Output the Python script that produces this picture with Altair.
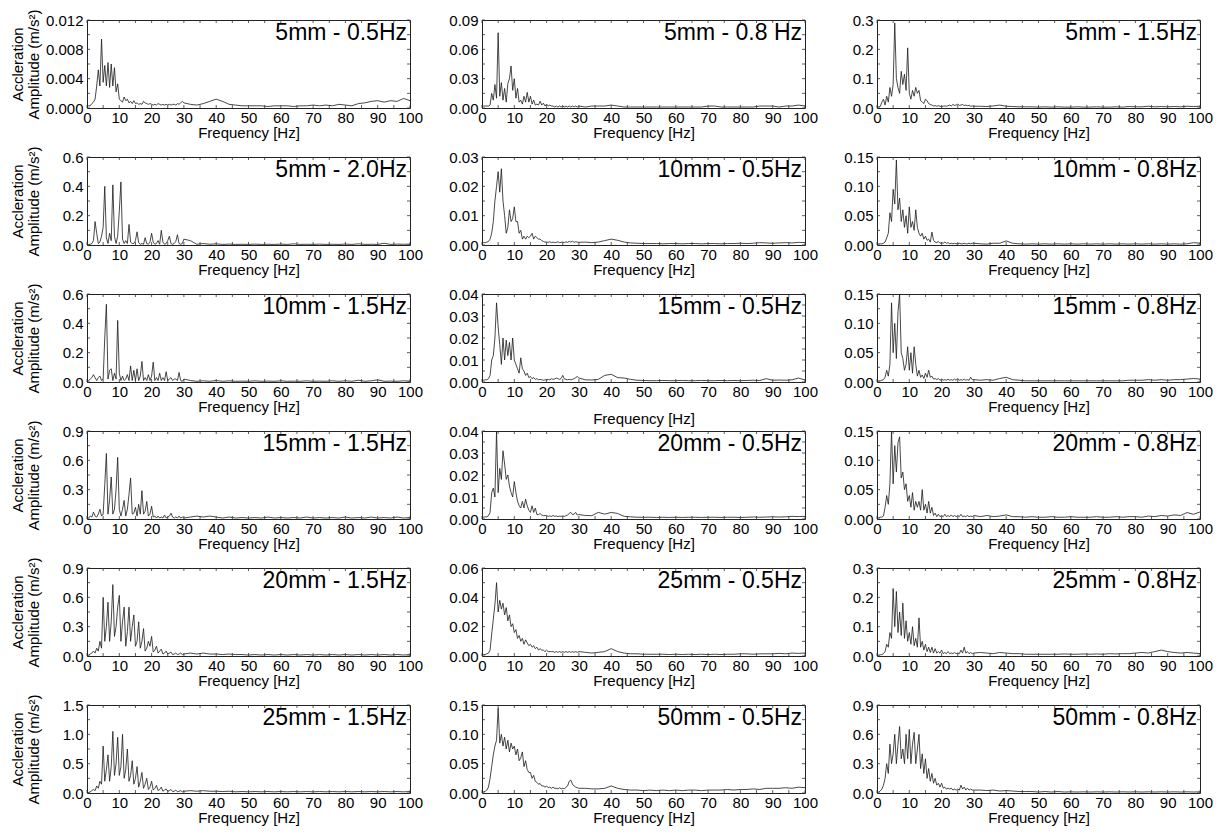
import altair as alt
import pandas as pd

FONT = "Liberation Sans"

FREQ = [0, 0.5, 1, 1.5, 2, 2.5, 3, 3.5, 4, 4.5,
        5, 5.5, 6, 6.5, 7, 7.5, 8, 8.5, 9, 9.5,
        10, 10.5, 11, 11.5, 12, 12.5, 13, 13.5, 14, 14.5,
        15, 15.5, 16, 16.5, 17, 17.5, 18, 18.5, 19, 19.5,
        20, 20.5, 21, 21.5, 22, 22.5, 23, 23.5, 24, 24.5,
        25, 25.5, 26, 26.5, 27, 27.5, 28, 28.5, 29, 29.5,
        30,
        32, 34, 36, 38, 40, 42, 44, 46, 48, 50,
        52, 54, 56, 58, 60, 62, 64, 66, 68, 70,
        72, 74, 76, 78, 80, 82, 84, 86, 88, 90,
        92, 94, 96, 98, 100]

TITLES = ["5mm - 0.5Hz", "5mm - 0.8 Hz", "5mm - 1.5Hz",
          "5mm - 2.0Hz", "10mm - 0.5Hz", "10mm - 0.8Hz",
          "10mm - 1.5Hz", "15mm - 0.5Hz", "15mm - 0.8Hz",
          "15mm - 1.5Hz", "20mm - 0.5Hz", "20mm - 0.8Hz",
          "20mm - 1.5Hz", "25mm - 0.5Hz", "25mm - 0.8Hz",
          "25mm - 1.5Hz", "50mm - 0.5Hz", "50mm - 0.8Hz"]

Y_TICKS = [[0, 0.004, 0.008, 0.012], [0, 0.03, 0.06, 0.09], [0, 0.1, 0.2, 0.3],
           [0, 0.2, 0.4, 0.6], [0, 0.01, 0.02, 0.03], [0, 0.05, 0.10, 0.15],
           [0, 0.2, 0.4, 0.6], [0, 0.01, 0.02, 0.03, 0.04], [0, 0.05, 0.10, 0.15],
           [0, 0.3, 0.6, 0.9], [0, 0.01, 0.02, 0.03, 0.04], [0, 0.05, 0.10, 0.15],
           [0, 0.3, 0.6, 0.9], [0, 0.02, 0.04, 0.06], [0, 0.1, 0.2, 0.3],
           [0, 0.5, 1.0, 1.5], [0, 0.05, 0.10, 0.15], [0, 0.3, 0.6, 0.9]]

Y_FMT = [".3f", ".2f", ".1f",
         ".1f", ".2f", ".2f",
         ".1f", ".2f", ".2f",
         ".1f", ".2f", ".2f",
         ".1f", ".2f", ".1f",
         ".1f", ".2f", ".1f"]

A01 = [0.0004, 0.0003, 0.0003, 0.0006, 0.0008, 0.0012, 0.0030, 0.0052, 0.0030, 0.0094,
       0.0035, 0.0058, 0.0030, 0.0062, 0.0028, 0.0060, 0.0030, 0.0055, 0.0022, 0.0033,
       0.0012, 0.0010, 0.0008, 0.0015, 0.0010, 0.0012, 0.0007, 0.0009, 0.0006, 0.0010,
       0.0006, 0.0007, 0.0005, 0.0006, 0.0005, 0.0009, 0.0007, 0.0006, 0.0005, 0.0006,
       0.0005, 0.0004, 0.0005, 0.0004, 0.0006, 0.0005, 0.0004, 0.0005, 0.0004, 0.0005,
       0.0004, 0.0005, 0.0004, 0.0005, 0.0005, 0.0004, 0.0006, 0.0005, 0.0007, 0.0009,
       0.0007,
       0.0005, 0.0004, 0.0006, 0.0009, 0.0012, 0.0009, 0.0005, 0.0004, 0.0003, 0.0003,
       0.0003, 0.0003, 0.0002, 0.0003, 0.0003, 0.0003, 0.0002, 0.0003, 0.0003, 0.0004,
       0.0003, 0.0004, 0.0003, 0.0005, 0.0004, 0.0003, 0.0006, 0.0007, 0.0009, 0.0010,
       0.0008, 0.0010, 0.0009, 0.0013, 0.0010]

A02 = [0.002, 0.002, 0.002, 0.002, 0.002, 0.003, 0.015, 0.008, 0.024, 0.010,
       0.077, 0.012, 0.026, 0.008, 0.020, 0.006, 0.025, 0.030, 0.043, 0.018,
       0.030, 0.010, 0.020, 0.006, 0.008, 0.004, 0.012, 0.006, 0.016, 0.006,
       0.012, 0.004, 0.008, 0.003, 0.004, 0.003, 0.007, 0.003, 0.005, 0.002,
       0.004, 0.002, 0.003, 0.002, 0.002, 0.001, 0.002, 0.001, 0.002, 0.001,
       0.002, 0.001, 0.002, 0.001, 0.002, 0.001, 0.002, 0.001, 0.002, 0.001,
       0.002,
       0.001, 0.002, 0.002, 0.002, 0.003, 0.002, 0.001, 0.001, 0.001, 0.001,
       0.001, 0.001, 0.001, 0.001, 0.001, 0.001, 0.001, 0.001, 0.001, 0.002,
       0.002, 0.001, 0.001, 0.001, 0.001, 0.001, 0.001, 0.002, 0.002, 0.002,
       0.001, 0.002, 0.002, 0.003, 0.002]

A03 = [0.003, 0.004, 0.005, 0.020, 0.030, 0.010, 0.040, 0.020, 0.070, 0.040,
       0.080, 0.290, 0.100, 0.070, 0.050, 0.125, 0.080, 0.115, 0.060, 0.205,
       0.050, 0.030, 0.060, 0.040, 0.070, 0.050, 0.060, 0.025, 0.020, 0.015,
       0.030, 0.025, 0.015, 0.012, 0.010, 0.007, 0.008, 0.006, 0.008, 0.006,
       0.005, 0.006, 0.007, 0.006, 0.008, 0.010, 0.007, 0.012, 0.009, 0.010,
       0.013, 0.009, 0.010, 0.012, 0.008, 0.010, 0.008, 0.009, 0.006, 0.007,
       0.006,
       0.006, 0.005, 0.007, 0.010, 0.006, 0.005, 0.004, 0.004, 0.004, 0.003,
       0.004, 0.003, 0.004, 0.003, 0.003, 0.004, 0.003, 0.003, 0.004, 0.003,
       0.003, 0.004, 0.003, 0.005, 0.004, 0.004, 0.006, 0.004, 0.005, 0.004,
       0.005, 0.004, 0.006, 0.005, 0.006]

A04 = [0.002, 0.003, 0.005, 0.010, 0.030, 0.160, 0.080, 0.010, 0.020, 0.060,
       0.120, 0.400, 0.050, 0.010, 0.080, 0.030, 0.410, 0.060, 0.010, 0.060,
       0.230, 0.430, 0.040, 0.010, 0.030, 0.010, 0.140, 0.020, 0.010, 0.010,
       0.030, 0.090, 0.015, 0.005, 0.010, 0.005, 0.050, 0.010, 0.005, 0.020,
       0.080, 0.020, 0.005, 0.010, 0.030, 0.005, 0.100, 0.020, 0.005, 0.010,
       0.030, 0.060, 0.010, 0.005, 0.010, 0.025, 0.070, 0.010, 0.005, 0.010,
       0.040,
       0.030, 0.005, 0.010, 0.005, 0.008, 0.004, 0.006, 0.004, 0.005, 0.004,
       0.006, 0.004, 0.005, 0.004, 0.006, 0.004, 0.008, 0.004, 0.005, 0.004,
       0.006, 0.004, 0.005, 0.004, 0.006, 0.004, 0.008, 0.004, 0.005, 0.004,
       0.012, 0.004, 0.006, 0.005, 0.006]

A05 = [0.0010, 0.0008, 0.0008, 0.0010, 0.0012, 0.0020, 0.0040, 0.0080, 0.0150, 0.0200,
       0.0250, 0.0180, 0.0260, 0.0150, 0.0100, 0.0040, 0.0060, 0.0120, 0.0080, 0.0090,
       0.0130, 0.0080, 0.0080, 0.0040, 0.0050, 0.0020, 0.0030, 0.0020, 0.0030, 0.0025,
       0.0030, 0.0040, 0.0020, 0.0030, 0.0025, 0.0020, 0.0020, 0.0015, 0.0012, 0.0010,
       0.0010, 0.0009, 0.0011, 0.0008, 0.0010, 0.0008, 0.0009, 0.0011, 0.0008, 0.0009,
       0.0010, 0.0008, 0.0011, 0.0009, 0.0012, 0.0010, 0.0013, 0.0009, 0.0011, 0.0010,
       0.0009,
       0.0010, 0.0008, 0.0010, 0.0015, 0.0020, 0.0016, 0.0010, 0.0007, 0.0006, 0.0005,
       0.0005, 0.0005, 0.0004, 0.0005, 0.0005, 0.0004, 0.0005, 0.0005, 0.0004, 0.0005,
       0.0005, 0.0004, 0.0005, 0.0005, 0.0006, 0.0005, 0.0006, 0.0008, 0.0007, 0.0006,
       0.0007, 0.0008, 0.0007, 0.0009, 0.0008]

A06 = [0.002, 0.002, 0.002, 0.002, 0.003, 0.005, 0.012, 0.020, 0.055, 0.040,
       0.095, 0.070, 0.145, 0.060, 0.080, 0.040, 0.060, 0.030, 0.050, 0.020,
       0.065, 0.030, 0.040, 0.025, 0.060, 0.030, 0.020, 0.015, 0.020, 0.010,
       0.015, 0.008, 0.010, 0.005, 0.022, 0.008, 0.005, 0.004, 0.006, 0.003,
       0.004, 0.003, 0.005, 0.003, 0.004, 0.002, 0.003, 0.002, 0.003, 0.002,
       0.002, 0.003, 0.002, 0.002, 0.003, 0.002, 0.002, 0.003, 0.002, 0.003,
       0.003,
       0.002, 0.0015, 0.003, 0.003, 0.007, 0.003, 0.002, 0.0015, 0.002, 0.0015,
       0.002, 0.0015, 0.002, 0.0015, 0.002, 0.0015, 0.002, 0.0015, 0.002, 0.0015,
       0.002, 0.0015, 0.002, 0.0015, 0.002, 0.0015, 0.002, 0.0015, 0.002, 0.0015,
       0.002, 0.0015, 0.002, 0.004, 0.003]

A07 = [0.005, 0.010, 0.020, 0.030, 0.050, 0.030, 0.010, 0.030, 0.040, 0.010,
       0.020, 0.300, 0.530, 0.020, 0.080, 0.090, 0.010, 0.060, 0.020, 0.420,
       0.060, 0.010, 0.040, 0.010, 0.020, 0.050, 0.010, 0.110, 0.010, 0.080,
       0.010, 0.090, 0.010, 0.040, 0.140, 0.010, 0.030, 0.010, 0.050, 0.010,
       0.040, 0.135, 0.010, 0.030, 0.010, 0.060, 0.010, 0.030, 0.010, 0.070,
       0.010, 0.020, 0.030, 0.010, 0.020, 0.020, 0.010, 0.065, 0.010, 0.005,
       0.020,
       0.010, 0.005, 0.008, 0.005, 0.010, 0.005, 0.008, 0.005, 0.006, 0.005,
       0.008, 0.005, 0.006, 0.005, 0.008, 0.005, 0.006, 0.005, 0.008, 0.005,
       0.006, 0.005, 0.008, 0.005, 0.008, 0.005, 0.012, 0.005, 0.008, 0.015,
       0.005, 0.006, 0.005, 0.008, 0.006]

A08 = [0.0010, 0.0008, 0.0010, 0.0010, 0.0015, 0.0030, 0.0100, 0.0120, 0.0200, 0.0360,
       0.0250, 0.0170, 0.0080, 0.0200, 0.0100, 0.0190, 0.0120, 0.0180, 0.0100, 0.0200,
       0.0100, 0.0080, 0.0060, 0.0040, 0.0110, 0.0060, 0.0050, 0.0030, 0.0040, 0.0020,
       0.0025, 0.0015, 0.0020, 0.0012, 0.0015, 0.0010, 0.0012, 0.0010, 0.0008, 0.0010,
       0.0009, 0.0012, 0.0010, 0.0015, 0.0012, 0.0014, 0.0018, 0.0015, 0.0012, 0.0016,
       0.0030, 0.0014, 0.0012, 0.0010, 0.0012, 0.0010, 0.0012, 0.0015, 0.0020, 0.0025,
       0.0018,
       0.0010, 0.0009, 0.0012, 0.0030, 0.0035, 0.0020, 0.0018, 0.0012, 0.0008, 0.0007,
       0.0006, 0.0006, 0.0007, 0.0006, 0.0006, 0.0007, 0.0006, 0.0006, 0.0007, 0.0006,
       0.0006, 0.0007, 0.0006, 0.0007, 0.0006, 0.0007, 0.0008, 0.0007, 0.0015, 0.0008,
       0.0009, 0.0008, 0.0010, 0.0018, 0.0009]

A09 = [0.002, 0.002, 0.002, 0.003, 0.004, 0.008, 0.020, 0.010, 0.030, 0.135,
       0.050, 0.100, 0.040, 0.120, 0.150, 0.050, 0.040, 0.020, 0.030, 0.060,
       0.020, 0.050, 0.015, 0.060, 0.030, 0.010, 0.020, 0.008, 0.012, 0.006,
       0.015, 0.008, 0.020, 0.008, 0.010, 0.005, 0.006, 0.004, 0.006, 0.003,
       0.005, 0.003, 0.004, 0.003, 0.005, 0.003, 0.004, 0.003, 0.005, 0.003,
       0.006, 0.003, 0.004, 0.003, 0.005, 0.003, 0.004, 0.003, 0.008, 0.004,
       0.004,
       0.003, 0.004, 0.003, 0.006, 0.008, 0.004, 0.003, 0.002, 0.002, 0.002,
       0.002, 0.002, 0.002, 0.002, 0.002, 0.002, 0.002, 0.002, 0.002, 0.002,
       0.002, 0.002, 0.002, 0.003, 0.003, 0.003, 0.004, 0.003, 0.004, 0.003,
       0.004, 0.004, 0.005, 0.006, 0.005]

A10 = [0.005, 0.010, 0.030, 0.020, 0.070, 0.030, 0.020, 0.050, 0.100, 0.030,
       0.050, 0.350, 0.670, 0.050, 0.200, 0.430, 0.050, 0.100, 0.300, 0.630,
       0.100, 0.030, 0.100, 0.190, 0.030, 0.100, 0.250, 0.420, 0.050, 0.060,
       0.120, 0.030, 0.150, 0.050, 0.290, 0.050, 0.080, 0.180, 0.030, 0.050,
       0.130, 0.020, 0.030, 0.010, 0.030, 0.010, 0.020, 0.010, 0.040, 0.010,
       0.020, 0.030, 0.060, 0.020, 0.010, 0.020, 0.010, 0.030, 0.010, 0.020,
       0.010,
       0.020, 0.030, 0.020, 0.030, 0.020, 0.010, 0.020, 0.010, 0.015, 0.010,
       0.015, 0.010, 0.020, 0.010, 0.015, 0.010, 0.015, 0.010, 0.020, 0.010,
       0.015, 0.010, 0.015, 0.010, 0.020, 0.010, 0.015, 0.010, 0.020, 0.010,
       0.015, 0.010, 0.020, 0.010, 0.015]

A11 = [0.0010, 0.0008, 0.0010, 0.0010, 0.0015, 0.0030, 0.0120, 0.0140, 0.0100, 0.0400,
       0.0120, 0.0230, 0.0180, 0.0310, 0.0250, 0.0180, 0.0200, 0.0150, 0.0120, 0.0100,
       0.0170, 0.0120, 0.0080, 0.0060, 0.0050, 0.0080, 0.0050, 0.0090, 0.0060, 0.0040,
       0.0030, 0.0060, 0.0030, 0.0050, 0.0020, 0.0020, 0.0025, 0.0018, 0.0015, 0.0016,
       0.0015, 0.0012, 0.0014, 0.0012, 0.0016, 0.0012, 0.0014, 0.0011, 0.0013, 0.0012,
       0.0014, 0.0012, 0.0015, 0.0018, 0.0025, 0.0030, 0.0020, 0.0022, 0.0030, 0.0018,
       0.0020,
       0.0016, 0.0015, 0.0030, 0.0022, 0.0030, 0.0025, 0.0012, 0.0010, 0.0008, 0.0008,
       0.0008, 0.0007, 0.0008, 0.0007, 0.0008, 0.0007, 0.0008, 0.0008, 0.0007, 0.0008,
       0.0008, 0.0007, 0.0008, 0.0008, 0.0007, 0.0008, 0.0009, 0.0008, 0.0009, 0.0010,
       0.0009, 0.0010, 0.0012, 0.0011, 0.0012]

A12 = [0.002, 0.002, 0.003, 0.003, 0.005, 0.020, 0.040, 0.025, 0.060, 0.150,
       0.060, 0.125, 0.080, 0.130, 0.140, 0.070, 0.080, 0.050, 0.060, 0.030,
       0.040, 0.020, 0.045, 0.015, 0.030, 0.020, 0.030, 0.015, 0.050, 0.015,
       0.025, 0.010, 0.030, 0.010, 0.020, 0.006, 0.010, 0.004, 0.008, 0.004,
       0.006, 0.004, 0.008, 0.004, 0.006, 0.004, 0.007, 0.004, 0.006, 0.004,
       0.006, 0.004, 0.008, 0.004, 0.005, 0.004, 0.006, 0.004, 0.005, 0.004,
       0.006,
       0.004, 0.006, 0.004, 0.005, 0.007, 0.004, 0.004, 0.003, 0.004, 0.003,
       0.003, 0.004, 0.003, 0.003, 0.004, 0.003, 0.003, 0.003, 0.004, 0.003,
       0.003, 0.004, 0.003, 0.004, 0.004, 0.003, 0.005, 0.004, 0.006, 0.005,
       0.007, 0.006, 0.011, 0.008, 0.012]

A13 = [0.005, 0.010, 0.020, 0.030, 0.050, 0.030, 0.080, 0.050, 0.150, 0.080,
       0.600, 0.150, 0.300, 0.550, 0.150, 0.350, 0.730, 0.200, 0.300, 0.500,
       0.620, 0.150, 0.350, 0.500, 0.100, 0.250, 0.500, 0.150, 0.300, 0.420,
       0.100, 0.150, 0.350, 0.080, 0.150, 0.280, 0.050, 0.080, 0.150, 0.100,
       0.200, 0.040, 0.060, 0.100, 0.030, 0.050, 0.070, 0.020, 0.030, 0.050,
       0.020, 0.030, 0.040, 0.015, 0.020, 0.030, 0.015, 0.020, 0.030, 0.015,
       0.020,
       0.030, 0.020, 0.030, 0.020, 0.020, 0.015, 0.020, 0.015, 0.015, 0.010,
       0.015, 0.010, 0.015, 0.010, 0.015, 0.010, 0.015, 0.010, 0.015, 0.010,
       0.015, 0.010, 0.015, 0.010, 0.015, 0.010, 0.015, 0.010, 0.015, 0.010,
       0.015, 0.010, 0.015, 0.010, 0.015]

A14 = [0.001, 0.001, 0.001, 0.0015, 0.002, 0.004, 0.015, 0.025, 0.035, 0.050,
       0.030, 0.038, 0.032, 0.036, 0.028, 0.033, 0.024, 0.028, 0.020, 0.022,
       0.016, 0.018, 0.012, 0.014, 0.010, 0.012, 0.008, 0.011, 0.009, 0.007,
       0.008, 0.006, 0.007, 0.005, 0.006, 0.004, 0.005, 0.004, 0.004, 0.003,
       0.004, 0.003, 0.003, 0.003, 0.003, 0.0025, 0.003, 0.0025, 0.003, 0.0025,
       0.003, 0.0025, 0.003, 0.0025, 0.003, 0.0025, 0.003, 0.0025, 0.003, 0.0025,
       0.003,
       0.0025, 0.002, 0.0025, 0.003, 0.005, 0.003, 0.002, 0.0015, 0.0015, 0.0012,
       0.0012, 0.0012, 0.0012, 0.001, 0.0012, 0.001, 0.0012, 0.001, 0.0012, 0.001,
       0.0012, 0.001, 0.0012, 0.0012, 0.0015, 0.0015, 0.0012, 0.0015, 0.0015, 0.0015,
       0.0018, 0.0015, 0.002, 0.0018, 0.002]

A15 = [0.003, 0.003, 0.004, 0.005, 0.008, 0.015, 0.040, 0.030, 0.080, 0.060,
       0.230, 0.100, 0.220, 0.080, 0.150, 0.070, 0.180, 0.060, 0.120, 0.050,
       0.080, 0.040, 0.100, 0.035, 0.060, 0.030, 0.130, 0.030, 0.050, 0.020,
       0.040, 0.015, 0.030, 0.012, 0.030, 0.010, 0.025, 0.010, 0.015, 0.010,
       0.020, 0.008, 0.012, 0.008, 0.015, 0.008, 0.010, 0.008, 0.012, 0.008,
       0.010, 0.008, 0.020, 0.010, 0.030, 0.010, 0.015, 0.008, 0.012, 0.008,
       0.010,
       0.012, 0.010, 0.008, 0.012, 0.010, 0.008, 0.008, 0.006, 0.006, 0.006,
       0.006, 0.006, 0.006, 0.007, 0.006, 0.006, 0.007, 0.006, 0.007, 0.006,
       0.008, 0.007, 0.008, 0.008, 0.010, 0.012, 0.010, 0.015, 0.020, 0.015,
       0.012, 0.010, 0.012, 0.010, 0.008]

A16 = [0.005, 0.010, 0.020, 0.040, 0.060, 0.040, 0.120, 0.080, 0.200, 0.150,
       0.800, 0.200, 0.400, 0.650, 0.200, 0.450, 1.050, 0.300, 0.500, 0.950,
       0.300, 0.450, 1.000, 0.250, 0.400, 0.750, 0.200, 0.300, 0.550, 0.150,
       0.250, 0.450, 0.100, 0.200, 0.350, 0.080, 0.150, 0.250, 0.060, 0.100,
       0.200, 0.050, 0.080, 0.130, 0.040, 0.060, 0.100, 0.030, 0.050, 0.070,
       0.030, 0.040, 0.060, 0.025, 0.030, 0.050, 0.020, 0.030, 0.040, 0.020,
       0.030,
       0.040, 0.030, 0.040, 0.030, 0.030, 0.025, 0.030, 0.020, 0.025, 0.020,
       0.025, 0.020, 0.025, 0.020, 0.025, 0.020, 0.025, 0.020, 0.025, 0.020,
       0.025, 0.020, 0.025, 0.020, 0.025, 0.020, 0.025, 0.020, 0.025, 0.020,
       0.025, 0.020, 0.025, 0.020, 0.025]

A17 = [0.002, 0.002, 0.003, 0.005, 0.010, 0.025, 0.045, 0.065, 0.080, 0.090,
       0.145, 0.085, 0.100, 0.080, 0.095, 0.075, 0.090, 0.070, 0.085, 0.075,
       0.080, 0.065, 0.075, 0.055, 0.060, 0.070, 0.045, 0.055, 0.040, 0.035,
       0.035, 0.025, 0.030, 0.020, 0.018, 0.015, 0.016, 0.012, 0.012, 0.010,
       0.012, 0.009, 0.010, 0.008, 0.010, 0.008, 0.008, 0.007, 0.009, 0.007,
       0.008, 0.007, 0.010, 0.012, 0.020, 0.022, 0.015, 0.012, 0.010, 0.009,
       0.008,
       0.008, 0.007, 0.007, 0.008, 0.012, 0.008, 0.006, 0.005, 0.005, 0.004,
       0.005, 0.004, 0.005, 0.004, 0.005, 0.004, 0.005, 0.005, 0.004, 0.005,
       0.005, 0.005, 0.006, 0.005, 0.006, 0.006, 0.007, 0.006, 0.008, 0.008,
       0.008, 0.009, 0.008, 0.010, 0.009]

A18 = [0.005, 0.010, 0.020, 0.040, 0.080, 0.150, 0.300, 0.200, 0.500, 0.300,
       0.400, 0.600, 0.300, 0.500, 0.680, 0.350, 0.450, 0.300, 0.600, 0.350,
       0.650, 0.300, 0.500, 0.620, 0.300, 0.450, 0.600, 0.250, 0.400, 0.200,
       0.350, 0.150, 0.250, 0.120, 0.200, 0.100, 0.150, 0.080, 0.100, 0.060,
       0.100, 0.050, 0.060, 0.040, 0.050, 0.040, 0.050, 0.030, 0.040, 0.030,
       0.040, 0.030, 0.080, 0.040, 0.060, 0.030, 0.050, 0.030, 0.040, 0.030,
       0.030,
       0.030, 0.025, 0.030, 0.020, 0.025, 0.020, 0.015, 0.015, 0.015, 0.010,
       0.015, 0.010, 0.015, 0.010, 0.012, 0.010, 0.012, 0.010, 0.012, 0.010,
       0.012, 0.010, 0.012, 0.010, 0.012, 0.010, 0.012, 0.010, 0.012, 0.010,
       0.012, 0.010, 0.012, 0.010, 0.012]

SERIES = [A01, A02, A03, A04, A05, A06, A07, A08, A09,
          A10, A11, A12, A13, A14, A15, A16, A17, A18]

X_LABELS = [0, 10, 20, 30, 40, 50, 60, 70, 80, 90, 100]
X_TICKS = [0, 5, 10, 15, 20, 25, 30, 35, 40, 45, 50,
           55, 60, 65, 70, 75, 80, 85, 90, 95, 100]

Y_TITLE = ["Accleration", "Amplitude (m/s²)"]
X_TITLE = "Frequency [Hz]"

for k, s in enumerate(SERIES):
    if len(s) != len(FREQ):
        raise ValueError(f"series {k + 1} has {len(s)} values, expected {len(FREQ)}")

W, H = 323, 88
TK = 3
LINE_COLOR = "#1a1a1a"
FS = 15


def panel(i):
    ymax = Y_TICKS[i][-1]
    xs = alt.Scale(domain=[0, 100], nice=False, zero=False)
    ys = alt.Scale(domain=[0, ymax], nice=False, zero=True)
    df = pd.DataFrame({"freq": FREQ, "amp": SERIES[i]})

    yticks = Y_TICKS[i]
    minor = []
    for a, b in zip(yticks[:-1], yticks[1:]):
        minor += [a, (a + b) / 2]
    minor.append(yticks[-1])

    common = dict(ticks=False, domain=False, grid=False, labelOverlap=False,
                  labelFlush=False,
                  labelFont=FONT, titleFont=FONT, labelFontSize=FS, titleFontSize=FS,
                  labelColor="black", titleColor="black", titleFontWeight="normal")
    xaxis = alt.Axis(values=X_LABELS, labelPadding=2,
                     titlePadding=(12 if i == 7 else 0), format="d", **common)
    yaxis = alt.Axis(values=yticks, format=Y_FMT[i], labelPadding=4,
                     minExtent=44, maxExtent=44, titlePadding=2,
                     titleLineHeight=16, **common)
    ytitle = Y_TITLE if i % 3 == 0 else ""

    xenc = alt.X("freq:Q", scale=xs, axis=xaxis, title=X_TITLE)
    yenc = alt.Y("amp:Q", scale=ys, axis=yaxis, title=ytitle)

    line = alt.Chart(df).mark_line(color=LINE_COLOR, strokeWidth=0.8, clip=True).encode(
        x=xenc, y=yenc)

    xt = pd.DataFrame({"freq": X_TICKS})
    yt = pd.DataFrame({"amp": minor})
    rule = dict(color="#333333", strokeWidth=0.8)
    bottom = alt.Chart(xt).mark_rule(**rule).encode(
        x=xenc, y=alt.value(H), y2=alt.value(H - TK))
    top = alt.Chart(xt).mark_rule(**rule).encode(
        x=xenc, y=alt.value(0), y2=alt.value(TK))
    left = alt.Chart(yt).mark_rule(**rule).encode(
        y=yenc, x=alt.value(0), x2=alt.value(TK))
    right = alt.Chart(yt).mark_rule(**rule).encode(
        y=yenc, x=alt.value(W), x2=alt.value(W - TK))

    lab = alt.Chart(pd.DataFrame({"label": [TITLES[i]]})).mark_text(
        align="right", baseline="top", fontSize=23, font=FONT, color="black"
    ).encode(x=alt.value(W - 3), y=alt.value(2), text="label:N")

    return alt.layer(line, bottom, top, left, right, lab).properties(width=W, height=H)


panels = [panel(i) for i in range(18)]

chart = alt.concat(
    *panels, columns=3, spacing={"row": 49, "column": 72}, bounds="flush",
    padding={"left": 9, "top": 8, "right": 5, "bottom": 5},
    background="white",
).configure_view(
    stroke="#222222", strokeWidth=1
)

chart.save("out.html", embed_options={"renderer": "svg", "actions": False})
